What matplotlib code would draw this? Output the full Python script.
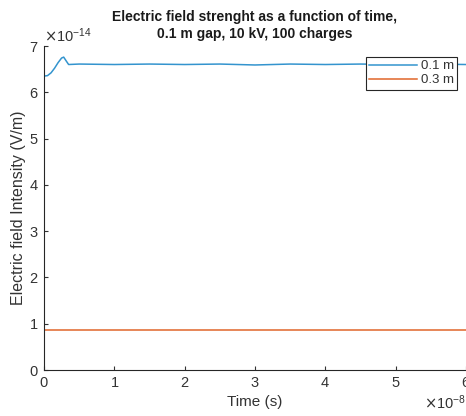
import matplotlib
matplotlib.use("Agg")
import matplotlib.pyplot as plt
from matplotlib.ticker import ScalarFormatter

plt.rcParams['font.family'] = ['Liberation Sans', 'DejaVu Sans']

# Data (time in seconds, field in V/m)
t_01 = [0, 0.05e-8, 0.1e-8, 0.15e-8, 0.2e-8, 0.25e-8, 0.28e-8, 0.31e-8, 0.35e-8, 0.5e-8,
        1.0e-8, 1.5e-8, 2.0e-8, 2.5e-8, 3.0e-8, 3.5e-8, 4.0e-8, 4.5e-8, 5.0e-8, 5.5e-8, 6.0e-8]
e_01 = [6.35e-14, 6.36e-14, 6.42e-14, 6.52e-14, 6.64e-14, 6.74e-14, 6.76e-14, 6.69e-14, 6.60e-14, 6.61e-14,
        6.60e-14, 6.61e-14, 6.60e-14, 6.61e-14, 6.59e-14, 6.61e-14, 6.60e-14, 6.61e-14, 6.60e-14, 6.61e-14, 6.60e-14]
t_03 = [0, 0.5e-8, 1.0e-8, 2.0e-8, 3.0e-8, 4.0e-8, 5.0e-8, 6.0e-8]
e_03 = [0.87e-14, 0.87e-14, 0.87e-14, 0.87e-14, 0.87e-14, 0.87e-14, 0.87e-14, 0.87e-14]
labels = ['0.1 m', '0.3 m']
xticks = [0, 1e-8, 2e-8, 3e-8, 4e-8, 5e-8, 6e-8]
yticks = [0, 1e-14, 2e-14, 3e-14, 4e-14, 5e-14, 6e-14, 7e-14]

TXT = '#333333'
fig = plt.figure(figsize=(4.66, 4.16), dpi=100)
ax = fig.add_axes([44/466, 46/416, 422/466, 324/416])

ax.plot(t_01, e_01, color='#3394CE', lw=1.1, label=labels[0])
ax.plot(t_03, e_03, color='#E0662A', lw=1.1, label=labels[1])

ax.set_xlim(0, 6e-8)
ax.set_ylim(0, 7e-14)
ax.set_xticks(xticks)
ax.set_yticks(yticks)

for axis in (ax.xaxis, ax.yaxis):
    f = ScalarFormatter(useMathText=True)
    f.set_scientific(True)
    axis.set_major_formatter(f)

ax.tick_params(direction='in', length=3, width=0.8, labelsize=10.5, colors=TXT, pad=4)
for ot in (ax.xaxis.get_offset_text(), ax.yaxis.get_offset_text()):
    ot.set_fontsize(10.5)
    ot.set_color(TXT)

for s in ['top', 'right']:
    ax.spines[s].set_visible(False)
for s in ['left', 'bottom']:
    ax.spines[s].set_color('#262626')
    ax.spines[s].set_linewidth(0.8)

ax.set_xlabel('Time (s)', fontsize=11, color=TXT, labelpad=4)
ax.set_ylabel('Electric field Intensity (V/m)', fontsize=11.5, color=TXT, labelpad=2)
ax.set_title('Electric field strenght as a function of time,\n0.1 m gap, 10 kV, 100 charges',
             fontsize=10, fontweight='bold', color='#1a1a1a', pad=6, linespacing=1.2)

leg = ax.legend(loc='upper right', bbox_to_anchor=(0.985, 0.975), fontsize=9.5,
                frameon=True, fancybox=False, edgecolor='#262626', framealpha=1,
                handlelength=3.6, borderpad=0.25, labelspacing=0.15, handletextpad=0.3,
                borderaxespad=0.2)
for txt in leg.get_texts():
    txt.set_color(TXT)
leg.get_frame().set_linewidth(0.8)

fig.savefig('out.png', dpi=100)
